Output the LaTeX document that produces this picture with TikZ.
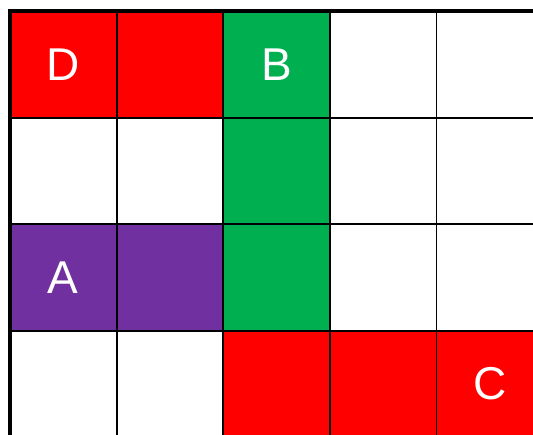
\documentclass[tikz,border=0pt]{standalone}
\usepackage{fontspec}
\setmainfont{Liberation Sans}
\usepackage{tikz}
\usetikzlibrary{positioning}

\definecolor{cellred}{HTML}{FF0000}
\definecolor{cellgreen}{HTML}{00B050}
\definecolor{cellpurple}{HTML}{7030A0}

\begin{document}
\begin{tikzpicture}[x=106.6pt, y=-106.6pt,
    gridline/.style={black, line width=1.8pt},
    frame/.style={black, line width=3.6pt},
    letter/.style={text=white, font=\fontsize{46}{46}\selectfont, inner sep=0pt}]
    % Picture area
    \clip (-0.0938,-0.1032) rectangle (4.906,3.968);

    % Coloured cells
    \foreach \c/\r/\col in {0/0/cellred, 1/0/cellred, 2/0/cellgreen, 2/1/cellgreen, 2/2/cellgreen,
        0/2/cellpurple, 1/2/cellpurple, 2/3/cellred, 3/3/cellred, 4/3/cellred} {
        \fill[\col] (\c,\r) rectangle ++(1,1);
    }

    % Grid lines
    \foreach \i in {1,...,4} {
        \draw[gridline] (\i,0) -- (\i,4);
    }
    \foreach \j in {1,...,3} {
        \draw[gridline] (0,\j) -- (5,\j);
    }
    \draw[frame] (0,0) rectangle (5,4);

    % Letters
    \node[letter] (D) at (0.5,0.5) {D};
    \node[letter] (B) at (2.5,0.5) {B};
    \node[letter] (A) at (0.5,2.5) {A};
    \node[letter] (C) at (4.5,3.5) {C};
\end{tikzpicture}
\end{document}
